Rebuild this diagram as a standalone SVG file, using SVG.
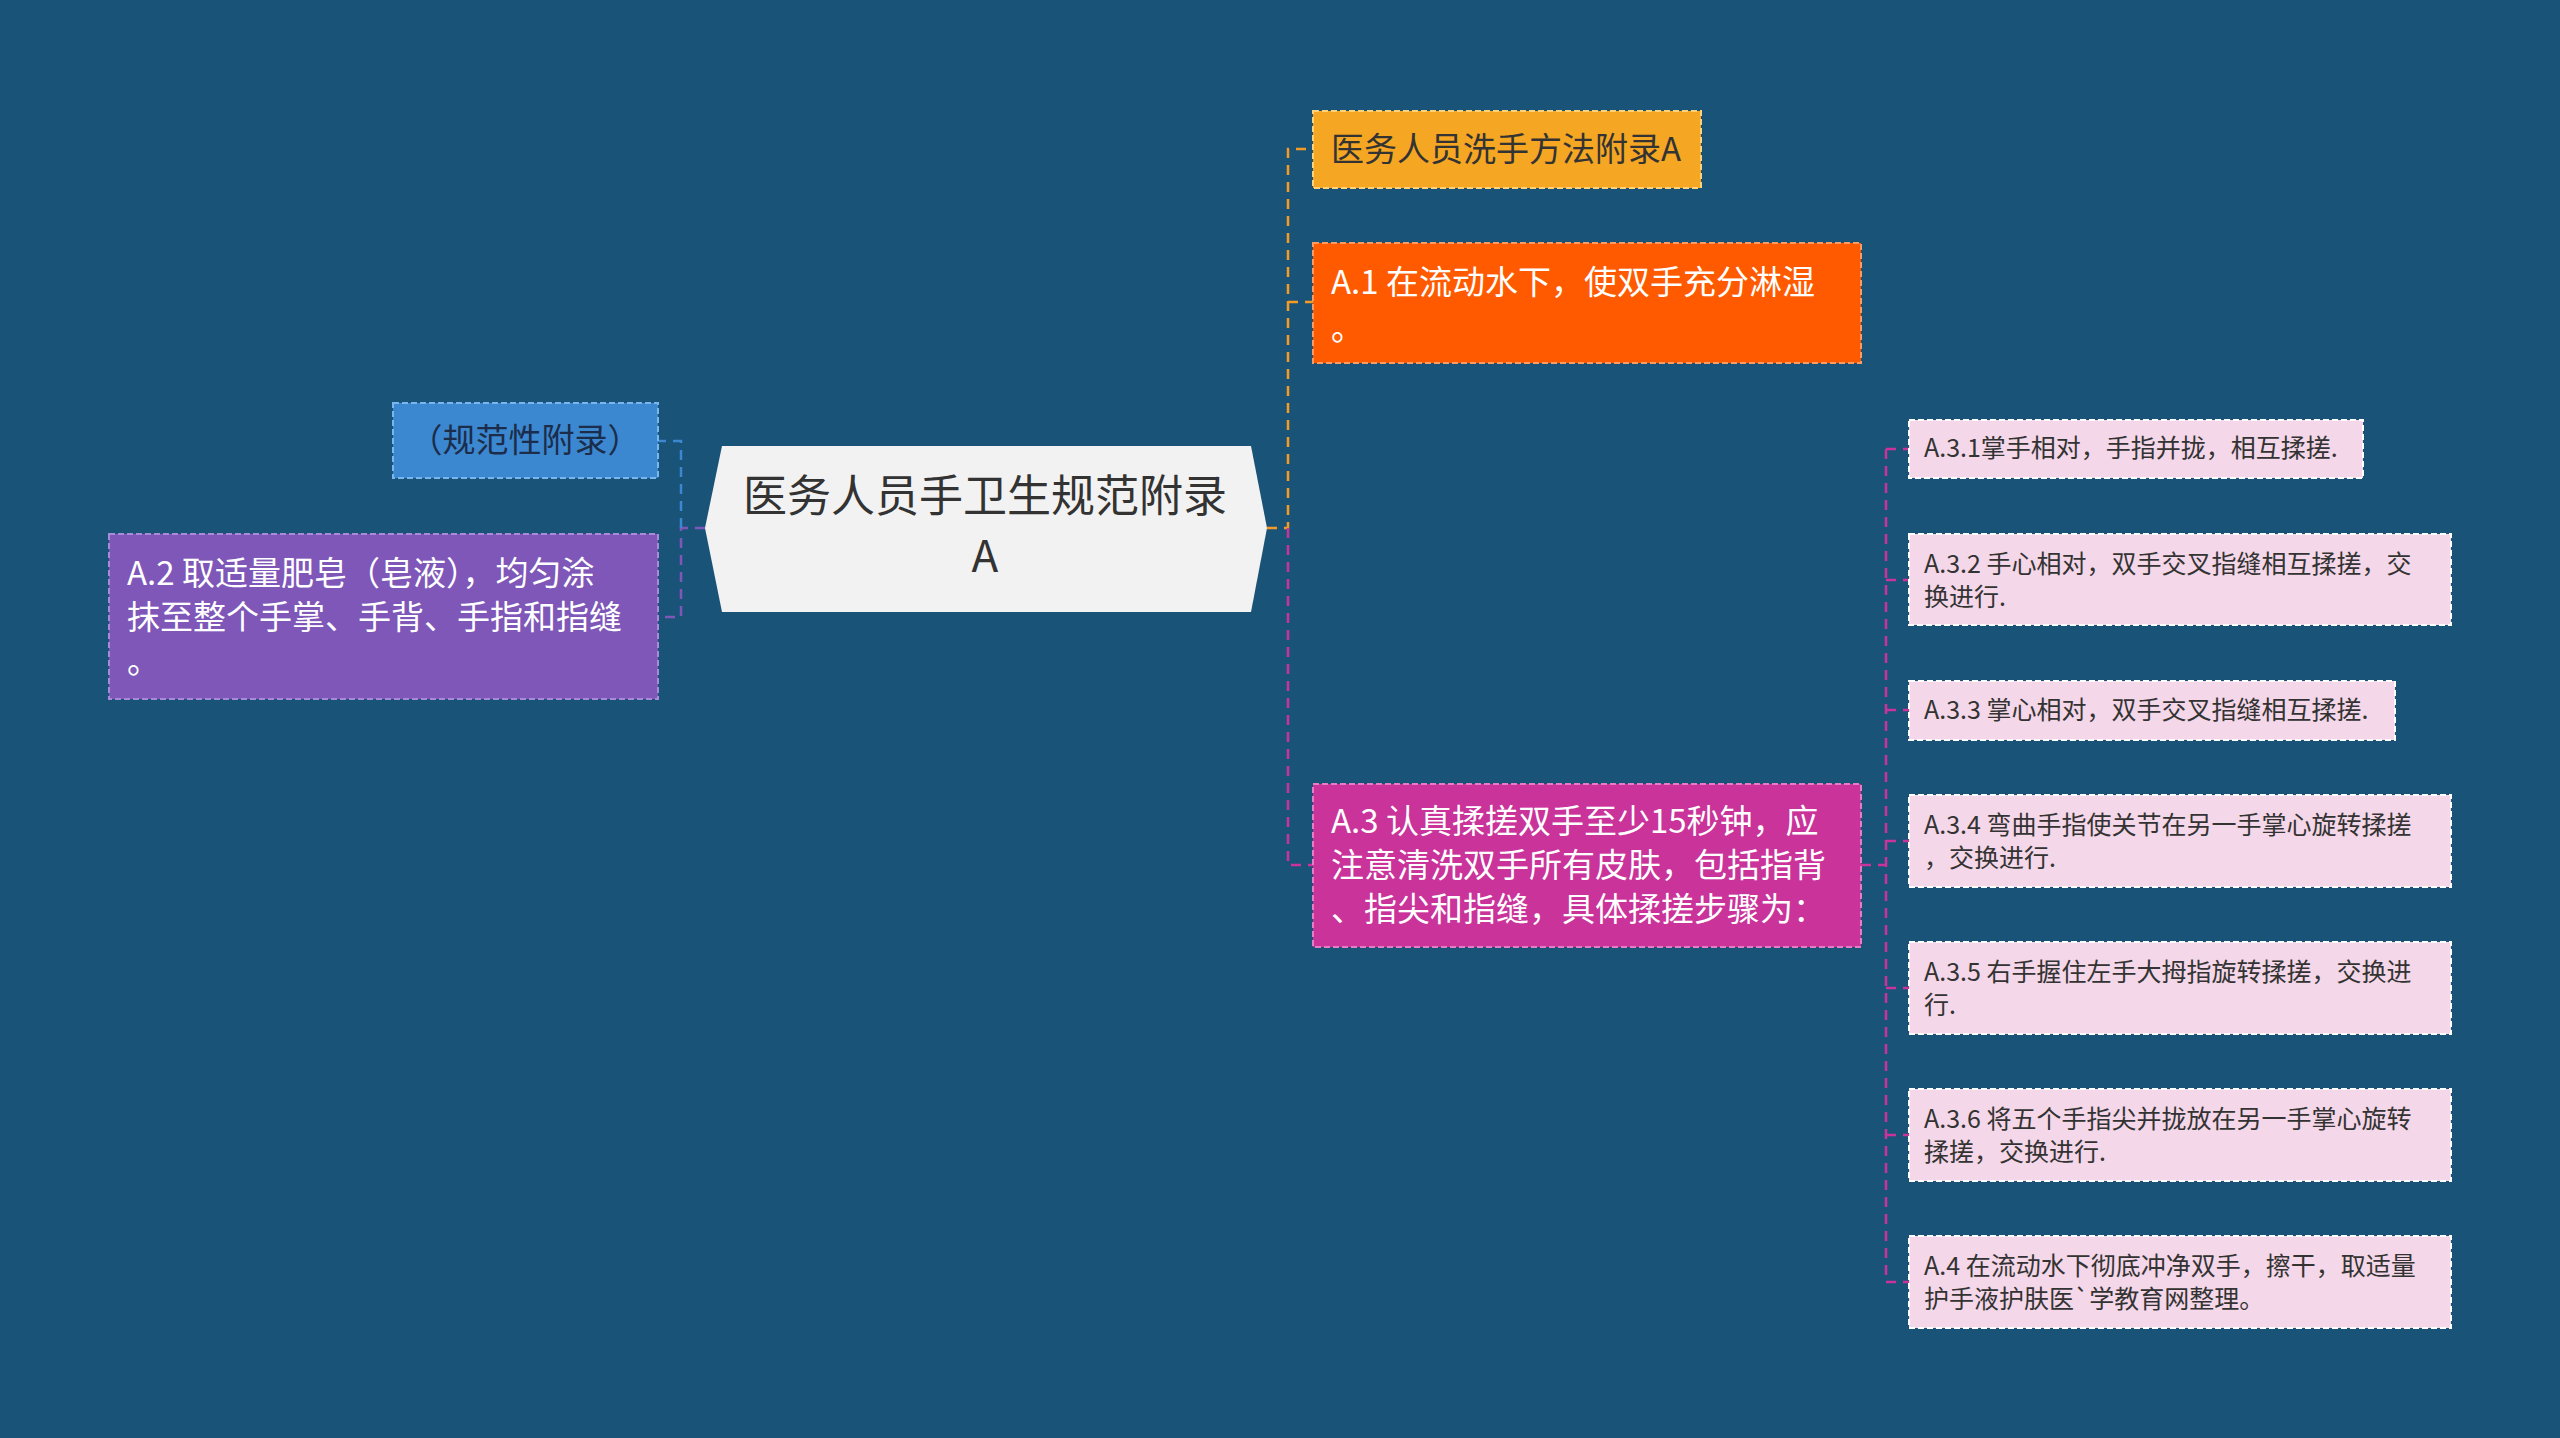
<svg xmlns="http://www.w3.org/2000/svg" width="2560" height="1438" viewBox="0 0 2560 1438">
<style>
.t{font-family:"Noto Sans CJK SC","Noto Sans",sans-serif}
.w{fill:#fff;font-size:33px}
.s{fill:#333;font-size:25px}
.c{fill:none;stroke-width:2.5;stroke-dasharray:10 7}
.b{stroke-dasharray:6 3;stroke-width:2}
</style>
<rect width="2560" height="1438" fill="#1a5378"/>
<g id="connectors">
<path class="c" stroke="#f59a23" d="M1267,528 H1288 V149 H1313 M1288,302 H1313"/>
<path class="c" stroke="#c9339a" d="M1288,528 V865 H1313 M1861,865 H1886 M1886,449 V1282 M1886,449 H1909 M1886,580 H1909 M1886,710 H1909 M1886,841 H1909 M1886,988 H1909 M1886,1135 H1909 M1886,1282 H1909"/>
<path class="c" stroke="#7e57b8" d="M705,528 H681 V617 H658"/>
<path class="c" stroke="#3b87d0" d="M681,528 V441 H658"/>
</g>
<g id="center"><polygon points="722,446 1251,446 1267,528 1251,612 722,612 705,528" fill="#f2f2f2"/>
<text class="t" x="985" y="512" font-size="44" fill="#333" text-anchor="middle">医务人员手卫生规范附录</text>
<text class="t" x="985" y="572" font-size="44" fill="#333" text-anchor="middle">A</text></g>
<g id="n1"><rect class="b" x="1313" y="111" width="388" height="77" fill="#f5a623" stroke="#ffd27a"/><text class="t" x="1331" y="161" font-size="33" fill="#333">医务人员洗手方法附录A</text></g>
<g id="n2"><rect class="b" x="1313" y="243" width="548" height="120" fill="#ff5a00" stroke="#ff9a60"/><text class="t w" x="1331" y="294">A.1 在流动水下，使双手充分淋湿</text><text class="t w" x="1331" y="340">。</text></g>
<g id="n3"><rect class="b" x="1313" y="784" width="548" height="163" fill="#c9339a" stroke="#e57dc4"/><text class="t w" x="1331" y="833">A.3 认真揉搓双手至少15秒钟，应</text><text class="t w" x="1331" y="877">注意清洗双手所有皮肤，包括指背</text><text class="t w" x="1331" y="921">、指尖和指缝，具体揉搓步骤为：</text></g>
<g id="l1"><rect class="b" x="393" y="403" width="265" height="75" fill="#3b87d0" stroke="#7ab6ee"/><text class="t" x="525" y="452" font-size="33" fill="#1b2d4a" text-anchor="middle">（规范性附录）</text></g>
<g id="l2"><rect class="b" x="109" y="534" width="549" height="165" fill="#7e57b8" stroke="#a88ad8"/><text class="t w" x="127" y="585">A.2 取适量肥皂（皂液），均匀涂</text><text class="t w" x="127" y="629">抹至整个手掌、手背、手指和指缝</text><text class="t w" x="127" y="673">。</text></g>
<g id="s1"><rect class="b" x="1909" y="420" width="454" height="58" fill="#f4d7e8" stroke="#fff"/><text class="t s" x="1924" y="457">A.3.1掌手相对，手指并拢，相互揉搓.</text></g>
<g id="s2"><rect class="b" x="1909" y="534" width="542" height="91" fill="#f4d7e8" stroke="#fff"/><text class="t s" x="1924" y="573">A.3.2 手心相对，双手交叉指缝相互揉搓，交</text><text class="t s" x="1924" y="606">换进行.</text></g>
<g id="s3"><rect class="b" x="1909" y="681" width="486" height="59" fill="#f4d7e8" stroke="#fff"/><text class="t s" x="1924" y="719">A.3.3 掌心相对，双手交叉指缝相互揉搓.</text></g>
<g id="s4"><rect class="b" x="1909" y="795" width="542" height="92" fill="#f4d7e8" stroke="#fff"/><text class="t s" x="1924" y="834">A.3.4 弯曲手指使关节在另一手掌心旋转揉搓</text><text class="t s" x="1924" y="867">，交换进行.</text></g>
<g id="s5"><rect class="b" x="1909" y="942" width="542" height="92" fill="#f4d7e8" stroke="#fff"/><text class="t s" x="1924" y="981">A.3.5 右手握住左手大拇指旋转揉搓，交换进</text><text class="t s" x="1924" y="1014">行.</text></g>
<g id="s6"><rect class="b" x="1909" y="1089" width="542" height="92" fill="#f4d7e8" stroke="#fff"/><text class="t s" x="1924" y="1128">A.3.6 将五个手指尖并拢放在另一手掌心旋转</text><text class="t s" x="1924" y="1161">揉搓，交换进行.</text></g>
<g id="s7"><rect class="b" x="1909" y="1236" width="542" height="92" fill="#f4d7e8" stroke="#fff"/><text class="t s" x="1924" y="1275">A.4 在流动水下彻底冲净双手，擦干，取适量</text><text class="t s" x="1924" y="1308">护手液护肤医`学教育网整理。</text></g>
</svg>
